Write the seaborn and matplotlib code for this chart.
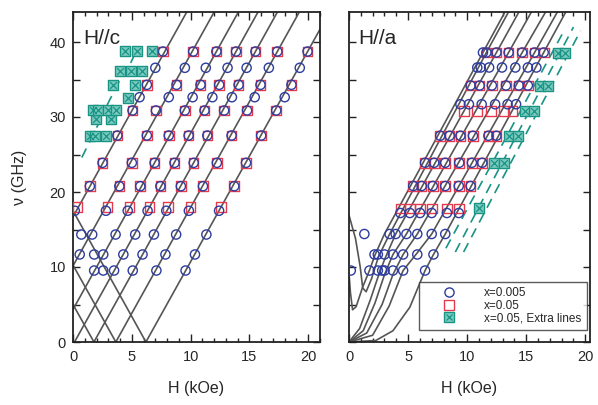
import numpy as np
import pandas as pd
import matplotlib
matplotlib.use("Agg")
import matplotlib.pyplot as plt
from matplotlib.ticker import MultipleLocator
import seaborn as sns

sns.set_style("ticks")
plt.rcParams["font.family"] = ["Liberation Sans", "DejaVu Sans"]

# ---------------- H//c : resonance fields (kOe) at each frequency (GHz)
c_freq_0005 = [9.53, 11.67, 14.33, 17.5, 20.77, 23.89, 27.53, 30.87, 32.64, 34.29, 36.56, 38.73]
c_field_0005 = [
    [1.80, 2.57, 3.49, 5.08, 7.09, 9.57],
    [0.57, 1.80, 2.57, 4.28, 5.91, 7.86, 10.37],
    [0.71, 1.63, 3.62, 5.29, 6.88, 8.77, 11.34],
    [0.15, 2.80, 4.65, 6.34, 7.93, 9.85, 12.42],
    [1.43, 3.94, 5.72, 7.43, 9.17, 11.05, 13.71],
    [2.51, 5.00, 6.94, 8.63, 10.26, 12.23, 14.71],
    [3.77, 6.28, 8.14, 9.83, 11.42, 13.48, 16.00],
    [5.06, 7.05, 9.51, 11.18, 12.85, 14.80, 17.28],
    [5.66, 8.14, 10.17, 11.85, 13.51, 15.45, 18.00],
    [6.28, 8.80, 10.84, 12.43, 14.08, 15.94, 18.57],
    [7.00, 9.51, 11.29, 13.14, 14.76, 16.65, 19.28],
    [7.65, 10.22, 12.19, 13.86, 15.51, 17.37, 19.94],
]
c_freq_005 = [17.97, 20.77, 23.89, 27.53, 30.87, 34.29, 38.73]
c_field_005 = [
    [0.37, 2.94, 4.80, 6.49, 8.08, 10.00, 12.57],
    [1.43, 3.94, 5.72, 7.43, 9.17, 11.05, 13.71],
    [2.51, 5.00, 6.94, 8.63, 10.26, 12.23, 14.71],
    [3.77, 6.28, 8.14, 9.83, 11.42, 13.48, 16.00],
    [5.06, 7.05, 9.51, 11.18, 12.85, 14.80, 17.28],
    [6.28, 8.80, 10.84, 12.43, 14.08, 15.94, 18.57],
    [7.65, 10.22, 12.19, 13.86, 15.51, 17.37, 19.94],
]
c_freq_extra = [27.5, 29.8, 30.9, 32.6, 34.3, 36.1, 38.8]
c_field_extra = [
    [1.43, 1.86, 2.77],
    [1.97, 3.26],
    [1.71, 2.14, 3.00, 3.68],
    [4.71],
    [3.43, 5.29],
    [4.00, 4.94, 5.85],
    [4.43, 5.42, 6.71],
]
# calculated branches, (H, nu) knots
c_lines = [
    [(0.0, 16.7), (9.67, 44.0)],
    [(0.0, 10.15), (12.0, 44.0)],
    [(0.0, 4.34), (14.06, 44.0)],
    [(0.13, 0.0), (15.73, 44.0)],
    [(1.78, 0.0), (17.38, 44.0)],
    [(3.64, 0.0), (19.24, 44.0)],
    [(6.20, 0.0), (21.0, 41.7)],
    [(0.0, 5.0), (1.78, 0.0)],
    [(0.0, 10.26), (3.64, 0.0)],
    [(0.0, 17.5), (6.20, 0.0)],
]
c_extra_lines = [
    [(0.75, 24.6), (2.2, 29.2)],
    [(2.9, 31.6), (4.3, 35.9)],
    [(4.9, 37.2), (5.5, 39.2)],
]

# ---------------- H//a
a_freq_0005 = [9.53, 11.67, 14.4, 17.2, 20.8, 23.9, 27.5, 31.7, 34.2, 36.6, 38.6]
a_field_0005 = [
    [0.15, 1.73, 2.44, 2.81, 3.01, 3.72, 4.58, 6.44],
    [2.16, 2.44, 3.01, 3.72, 4.58, 5.78, 7.15],
    [1.30, 3.44, 3.95, 4.86, 5.78, 7.00, 8.15],
    [4.35, 5.15, 6.01, 7.00, 8.29, 9.29],
    [5.44, 6.15, 7.09, 8.15, 9.29, 10.29],
    [6.44, 7.21, 8.15, 9.33, 10.40, 11.28],
    [7.72, 8.52, 9.43, 10.49, 11.80, 12.48],
    [9.43, 10.15, 11.23, 12.37, 13.42, 14.14],
    [10.29, 11.06, 12.09, 13.29, 14.37, 15.14],
    [10.86, 11.15, 11.86, 12.95, 14.08, 15.14, 15.86],
    [11.34, 11.63, 12.48, 13.51, 14.66, 15.71, 16.48],
]
a_freq_005 = [17.8, 20.8, 23.9, 27.5, 30.8, 34.2, 38.6]
a_field_005 = [
    [4.35, 5.15, 6.01, 7.00, 8.29, 9.29],
    [5.44, 6.15, 7.09, 8.15, 9.29, 10.29],
    [6.44, 7.21, 8.15, 9.33, 10.40, 11.28],
    [7.72, 8.52, 9.43, 10.49, 11.80, 12.48],
    [9.72, 10.86, 12.00, 13.14, 13.85],
    [10.29, 11.06, 12.09, 13.29, 14.37, 15.14],
    [11.63, 12.48, 13.51, 14.66, 15.71, 16.48],
]
a_freq_extra = [17.9, 23.9, 27.5, 30.8, 34.2, 38.6]
a_field_extra = [
    [11.0],
    [12.29, 13.14],
    [13.57, 14.34],
    [14.94, 15.70],
    [16.20, 16.82],
    [17.69, 18.28],
]
a_lines = [
    [(0.0, 9.1), (0.12, 6.6), (0.3, 4.3), (0.6, 4.7), (1.15, 7.3), (1.73, 9.53),
     (2.2, 11.6), (3.0, 14.4), (11.34, 38.6), (13.2, 44.0)],
    [(0.0, 16.9), (0.55, 13.8), (0.95, 10.0), (1.16, 7.2), (1.45, 6.7), (1.9, 8.4),
     (2.5, 11.4), (3.44, 14.4), (11.63, 38.6), (13.5, 44.0)],
    [(0.0, 0.0), (0.9, 1.8), (1.8, 5.6), (2.44, 8.6), (3.01, 11.0), (3.95, 14.4),
     (12.48, 38.6), (14.38, 44.0)],
    [(0.0, 0.0), (1.2, 1.5), (2.2, 5.2), (3.01, 9.0), (3.72, 11.67), (4.86, 14.4),
     (13.51, 38.6), (15.44, 44.0)],
    [(0.0, 0.0), (1.5, 1.2), (2.8, 5.0), (3.72, 9.0), (4.58, 11.67), (5.78, 14.4),
     (14.66, 38.6), (16.64, 44.0)],
    [(0.0, 0.0), (2.0, 0.9), (3.4, 4.8), (4.58, 9.53), (5.78, 11.9), (7.0, 14.4),
     (15.71, 38.6), (17.64, 44.0)],
    [(0.0, 0.0), (2.27, 0.2), (3.72, 1.5), (5.15, 4.64), (6.44, 9.53), (7.15, 11.67),
     (8.15, 14.4), (16.48, 38.6), (18.35, 44.0)],
]
a_extra_lines = [
    [(8.2, 12.5), (18.2, 41.5)],
    [(9.0, 12.0), (19.0, 42.0)],
    [(9.7, 12.0), (19.6, 41.5)],
]

BLUE = "#2d3c9e"
RED = "#e6394c"
TEAL = "#179484"
TEAL_FILL = "#7ccabf"
LINE = "#555555"


def rows_to_frame(freqs, fields):
    h, nu = [], []
    for f, hs in zip(freqs, fields):
        h.extend(hs)
        nu.extend([f] * len(hs))
    return pd.DataFrame({"H": h, "nu": nu})


def draw_lines(ax, lines, **kw):
    for pts in lines:
        df = pd.DataFrame(pts, columns=["H", "nu"])
        sns.lineplot(data=df, x="H", y="nu", ax=ax, sort=False, estimator=None, **kw)


def draw_panel(ax, lines, extra_lines, f0, h0, f1, h1, fx, hx):
    draw_lines(ax, lines, color=LINE, lw=1.2)
    draw_lines(ax, extra_lines, color=TEAL, lw=1.2, linestyle=(0, (6, 4)))
    d0 = rows_to_frame(f0, h0)
    d1 = rows_to_frame(f1, h1)
    dx = rows_to_frame(fx, hx)
    sns.scatterplot(data=d1, x="H", y="nu", ax=ax, marker="s", s=48,
                    facecolor="none", edgecolor=RED, linewidth=1.0, zorder=3)
    sns.scatterplot(data=d0, x="H", y="nu", ax=ax, marker="o", s=44,
                    facecolor="none", edgecolor=BLUE, linewidth=1.0, zorder=4)
    sns.scatterplot(data=dx, x="H", y="nu", ax=ax, marker="s", s=44,
                    color=TEAL_FILL, edgecolor=TEAL, linewidth=1.0, zorder=5)
    sns.scatterplot(data=dx, x="H", y="nu", ax=ax, marker="x", s=24,
                    color=TEAL, linewidth=0.9, zorder=6)


fig = plt.figure(figsize=(5.98, 4.05), dpi=100)
axc = fig.add_axes([73 / 598, 1 - 342 / 405, 247 / 598, 330 / 405])
axa = fig.add_axes([349 / 598, 1 - 342 / 405, 241 / 598, 330 / 405])

draw_panel(axc, c_lines, c_extra_lines, c_freq_0005, c_field_0005,
           c_freq_005, c_field_005, c_freq_extra, c_field_extra)
draw_panel(axa, a_lines, a_extra_lines, a_freq_0005, a_field_0005,
           a_freq_005, a_field_005, a_freq_extra, a_field_extra)

for ax, xmax in ((axc, 21.0), (axa, 20.4)):
    ax.set_xlim(0, xmax)
    ax.set_ylim(0, 44)
    ax.xaxis.set_major_locator(MultipleLocator(5))
    ax.xaxis.set_minor_locator(MultipleLocator(1))
    ax.yaxis.set_major_locator(MultipleLocator(10))
    ax.yaxis.set_minor_locator(MultipleLocator(5))
    ax.tick_params(which="both", direction="in", top=True, right=True,
                   labelsize=10.5, width=1.0, color="#222222")
    ax.tick_params(axis="x", which="major", length=6, pad=6)
    ax.tick_params(axis="x", which="minor", length=3)
    ax.tick_params(axis="y", which="both", length=5, pad=5)
    for s in ax.spines.values():
        s.set_linewidth(1.3)
        s.set_color("#222222")
    ax.set_xlabel("H (kOe)", fontsize=11.5, labelpad=12)
    ax.set_ylabel("")

axc.set_ylabel("ν (GHz)", fontsize=11.5, labelpad=16)
axa.tick_params(labelleft=False)
axc.text(0.04, 0.95, "H//c", transform=axc.transAxes, fontsize=15, va="top")
axa.text(0.04, 0.95, "H//a", transform=axa.transAxes, fontsize=15, va="top")

# legend
h0 = plt.Line2D([], [], ls="none", marker="o", ms=6.6, mfc="none", mec=BLUE, mew=1.0)
h1 = plt.Line2D([], [], ls="none", marker="s", ms=6.6, mfc="none", mec=RED, mew=1.0)
hx1 = plt.Line2D([], [], ls="none", marker="s", ms=6.6, mfc=TEAL_FILL, mec=TEAL, mew=1.0)
hx2 = plt.Line2D([], [], ls="none", marker="x", ms=4.4, mec=TEAL, mew=0.9)
leg = axa.legend([h0, h1, (hx1, hx2)], ["x=0.005", "x=0.05", "x=0.05, Extra lines"],
                 loc="lower right", bbox_to_anchor=(0.997, 0.03), fontsize=8.5,
                 frameon=True, fancybox=False, edgecolor="#333333",
                 handlelength=4.2, handletextpad=0.9, borderpad=0.45,
                 labelspacing=0.06, borderaxespad=0.2)
leg.get_frame().set_linewidth(1.0)

fig.savefig("out.png", dpi=100)
